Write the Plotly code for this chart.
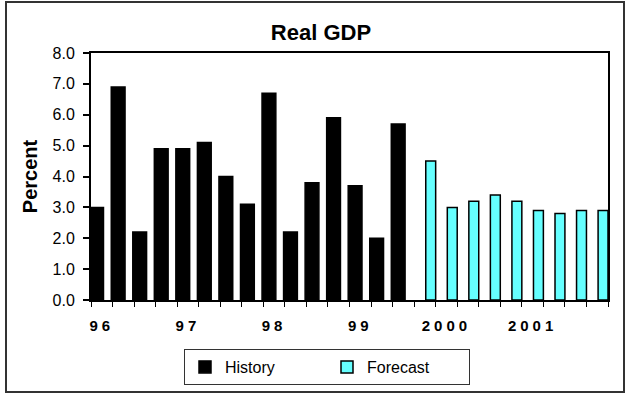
import plotly.graph_objects as go

# ---- data ----
quarters = [f"{y}Q{q}" for y in ["96", "97", "98", "99", "00", "01"] for q in range(1, 5)]
history = [3.0, 6.9, 2.2, 4.9, 4.9, 5.1, 4.0, 3.1, 6.7, 2.2, 3.8, 5.9, 3.7, 2.0, 5.7]
forecast = [4.5, 3.0, 3.2, 3.4, 3.2, 2.9, 2.8, 2.9, 2.9]
year_labels = ["96", "97", "98", "99", "2000", "2001"]
y_ticks = [0, 1, 2, 3, 4, 5, 6, 7, 8]

W, H = 629, 394
L, R, T, B = 91, 21, 53, 94

idx = list(range(len(quarters)))
hist_x = idx[:len(history)]
fc_x = idx[len(quarters) - len(forecast):]
year_pos = idx[::4]

fig = go.Figure()
fig.add_trace(go.Bar(
    x=hist_x, y=history, name="History",
    marker=dict(color="#000000", line=dict(color="#000000", width=1.5)),
    width=0.64, offset=-0.56,
))
fig.add_trace(go.Bar(
    x=fc_x, y=forecast, name="Forecast",
    marker=dict(color="#66FFFF", line=dict(color="#000000", width=1.5)),
    width=0.46, offset=0.04,
))

font = "Liberation Sans, Arial, sans-serif"
pw = W - L - R
ph = H - T - B

fig.update_layout(
    width=W, height=H,
    margin=dict(l=L, r=R, t=T, b=B),
    paper_bgcolor="white", plot_bgcolor="white",
    barmode="overlay",
    showlegend=True,
    font=dict(family=font, color="#000000"),
    title=dict(text="<b>Real GDP</b>", x=321 / W, xanchor="center",
               y=1 - 32 / H, yanchor="middle", xref="container", yref="container",
               font=dict(size=22, family=font)),
    xaxis=dict(
        range=[-0.5, len(quarters) - 0.5],
        tickvals=year_pos,
        ticktext=[f'<span style="letter-spacing:4px">{t}</span>' for t in year_labels],
        ticks="", tickfont=dict(size=15, family=font, weight="bold"),
        ticklabelstandoff=11,
        minor=dict(tickvals=[i - 0.5 for i in idx] + [len(quarters) - 0.5],
                   ticks="outside", ticklen=5, tickcolor="#000000", tickwidth=1),
        showline=True, linecolor="#000000", linewidth=2, mirror=True,
        showgrid=False, zeroline=False, fixedrange=True,
    ),
    yaxis=dict(
        range=[0, 8], tickvals=y_ticks, tickformat=".1f",
        ticks="outside", ticklen=6, tickcolor="#000000", tickwidth=1.5,
        tickfont=dict(size=16, family=font),
        ticklabelstandoff=5,
        showline=True, linecolor="#000000", linewidth=2, mirror=True,
        showgrid=False, zeroline=False,
        title=dict(text="<b>Percent</b>", font=dict(size=20, family=font), standoff=10),
    ),
    legend=dict(
        orientation="h", xref="container", yref="container",
        x=327 / W, xanchor="center", y=1 - 349 / H, yanchor="top",
        bordercolor="#333333", borderwidth=1, bgcolor="white",
        font=dict(size=16, family=font),
        entrywidth=97, itemwidth=30,
    ),
)

# outer chart border
fig.add_shape(type="rect", xref="paper", yref="paper",
              x0=(6 - L) / pw, x1=(624 - L) / pw,
              y0=(H - B - 392) / ph, y1=(H - B - 2) / ph,
              line=dict(color="#333333", width=2), fillcolor="rgba(0,0,0,0)", layer="below")

fig.write_html("out.html")
